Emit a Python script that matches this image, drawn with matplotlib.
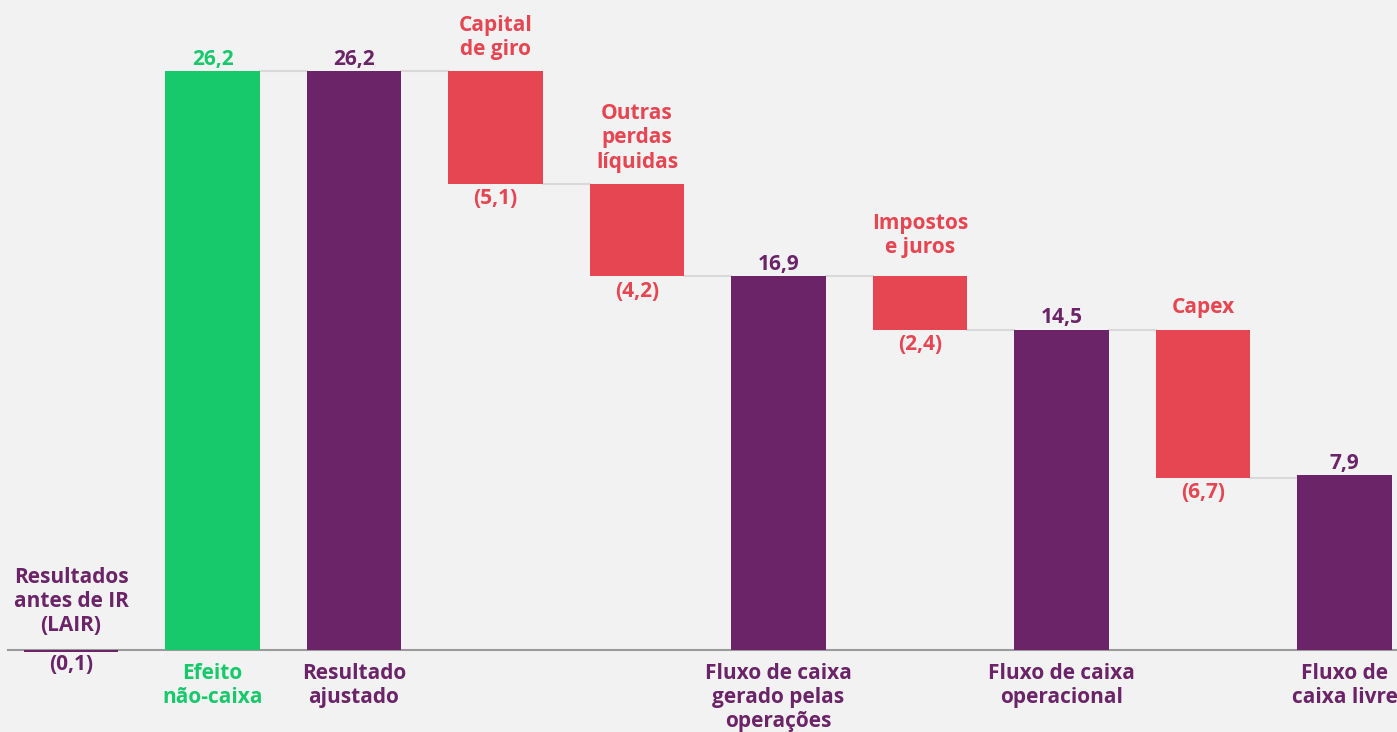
import matplotlib
matplotlib.use("Agg")
import matplotlib.pyplot as plt

# dados (R$ milhões)
labels = ["Resultados\nantes de IR\n(LAIR)", "Efeito\nnão-caixa", "Resultado\najustado",
          "Capital\nde giro", "Outras\nperdas\nlíquidas", "Fluxo de caixa\ngerado pelas\noperações",
          "Impostos\ne juros", "Fluxo de caixa\noperacional", "Capex", "Fluxo de\ncaixa livre"]
bottoms = [0.0, 0.0, 0.0, 21.1, 16.9, 0.0, 14.5, 0.0, 7.8, 0.0]
tops = [-0.1, 26.2, 26.2, 26.2, 21.1, 16.9, 16.9, 14.5, 14.5, 7.9]
value_text = ["(0,1)", "26,2", "26,2", "(5,1)", "(4,2)", "16,9", "(2,4)", "14,5", "(6,7)", "7,9"]
kinds = ["start", "add", "total", "neg", "neg", "total", "neg", "total", "neg", "total"]

GREEN = "#17c96b"
PURPLE = "#6a2467"
RED = "#e64552"
BG = "#f2f2f2"
colors = {"start": PURPLE, "add": GREEN, "total": PURPLE, "neg": RED}

plt.rcParams["font.family"] = ["Open Sans", "DejaVu Sans"]
plt.rcParams["font.weight"] = "bold"

fig = plt.figure(figsize=(13.97, 7.32), dpi=100, facecolor=BG)
ax = fig.add_axes([0, 0, 1, 1])
ax.set_facecolor(BG)
ax.set_xlim(-0.502, 9.371)
ax.set_ylim(-3.71, 29.41)
ax.axis("off")

w = 0.67
x = list(range(len(labels)))
fs = 15

# linha de base
ax.plot([-0.445, 9.371], [0, 0], color="#9a9a9a", lw=1.5, zorder=1)

# conectores
for i in range(1, len(x) - 1):
    level = tops[i] if kinds[i] != "neg" else bottoms[i]
    ax.plot([x[i] + w / 2, x[i + 1] - w / 2], [level, level], color="#d9d9d9", lw=1.5, zorder=1)

for i in x:
    c = colors[kinds[i]]
    lo, hi = min(bottoms[i], tops[i]), max(bottoms[i], tops[i])
    ax.bar(x[i], hi - lo, bottom=lo, width=w, color=c, zorder=2)
    k = kinds[i]
    if k == "start":
        ax.annotate(labels[i], (x[i], 0), xytext=(0, 10), textcoords="offset points",
                    ha="center", va="bottom", color=c, fontsize=fs, linespacing=1.2)
        ax.annotate(value_text[i], (x[i], 0), xytext=(0, -3), textcoords="offset points",
                    ha="center", va="top", color=c, fontsize=fs)
    elif k == "neg":
        up = 13 if i == 6 else 8  # "Impostos e juros" fica um pouco mais alto
        ax.annotate(labels[i], (x[i], tops[i]), xytext=(0, up),
                    textcoords="offset points", ha="center", va="bottom", color=c,
                    fontsize=fs, linespacing=1.2)
        ax.annotate(value_text[i], (x[i], bottoms[i]), xytext=(0, -3), textcoords="offset points",
                    ha="center", va="top", color=c, fontsize=fs)
    else:
        ax.annotate(value_text[i], (x[i], tops[i]), xytext=(0, 4.5), textcoords="offset points",
                    ha="center", va="baseline", color=c, fontsize=fs)
        ax.annotate(labels[i], (x[i], 0), xytext=(0, -9), textcoords="offset points",
                    ha="center", va="top", color=c, fontsize=fs, linespacing=1.2)

fig.savefig("out.png", dpi=100, facecolor=BG)
